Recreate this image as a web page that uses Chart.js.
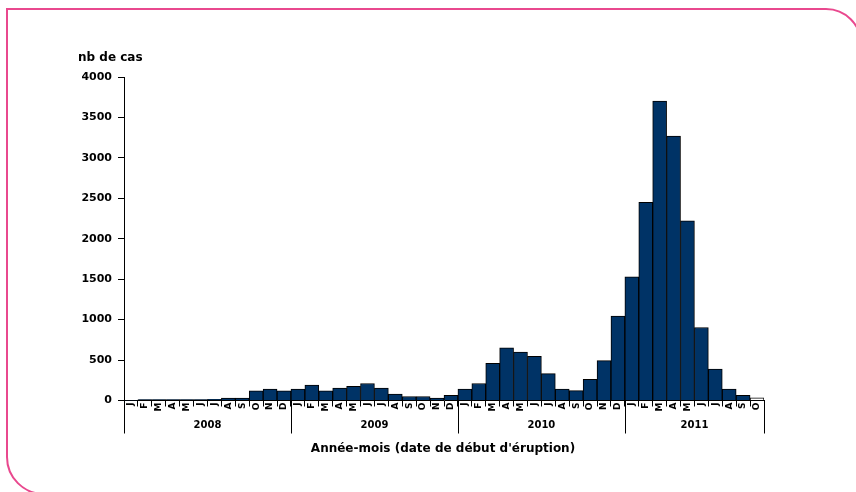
<!DOCTYPE html>
<html>
<head>
<meta charset="utf-8">
<script src="https://cdn.jsdelivr.net/npm/chart.js@4"></script>
<style>
  html, body { margin: 0; padding: 0; background: #fff; overflow: hidden; }
  #wrap { position: relative; width: 856px; height: 492px; overflow: hidden; }
  #cadre { position: absolute; left: 6px; top: 8px; width: 856px; height: 487px;
           border: 2px solid #e9488e; border-radius: 0 36px 0 38px; box-sizing: border-box; }
  canvas { position: absolute; left: 0; top: 0; }
</style>
</head>
<body>
<div id="wrap">
  <div id="cadre"></div>
  <canvas id="graphe" width="856" height="492"></canvas>
</div>
<script>
// mois de début d'éruption, janvier 2008 à octobre 2011
var mois = ['J','F','M','A','M','J','J','A','S','O','N','D',
            'J','F','M','A','M','J','J','A','S','O','N','D',
            'J','F','M','A','M','J','J','A','S','O','N','D',
            'J','F','M','A','M','J','J','A','S','O'];
var annees = ['2008', '2009', '2010', '2011'];
var moisParAnnee = [12, 12, 12, 10];
var cas = [5, 12, 12, 12, 12, 12, 15, 30, 30, 120, 140, 120,
           140, 190, 120, 155, 175, 210, 155, 80, 50, 50, 30, 65,
           140, 210, 460, 650, 600, 547, 333, 140, 123, 263, 494, 1045,
           1529, 2449, 3702, 3269, 2222, 903, 387, 140, 65, 33];
var ticksY = [0, 500, 1000, 1500, 2000, 2500, 3000, 3500, 4000];

var police = 'DejaVu Sans';

// annees sous l'axe des x + titres des axes
var annotations = {
  id: 'annotations',
  afterDraw: function (chart) {
    var c = chart.ctx;
    var x = chart.scales.x;
    var zone = chart.chartArea;
    var demi = (x.getPixelForValue(1) - x.getPixelForValue(0)) / 2;
    c.save();
    c.strokeStyle = '#000';
    c.lineWidth = 1;
    c.fillStyle = '#000';
    c.textAlign = 'center';
    c.textBaseline = 'middle';
    c.font = 'bold 10px ' + police;
    var debut = 0;
    for (var i = 0; i <= annees.length; i++) {
      var px = Math.round(x.getPixelForValue(Math.min(debut, mois.length - 1)) + (debut < mois.length ? -demi : demi)) + 0.5;
      c.beginPath();
      c.moveTo(px, zone.bottom);
      c.lineTo(px, zone.bottom + 33);
      c.stroke();
      if (i < annees.length) {
        var fin = debut + moisParAnnee[i] - 1;
        var milieu = (x.getPixelForValue(debut) + x.getPixelForValue(fin)) / 2;
        c.fillText(annees[i], milieu, zone.bottom + 25);
        debut += moisParAnnee[i];
      }
    }
    c.font = 'bold 12px ' + police;
    c.fillText('Année-mois (date de début d\'éruption)', 443, 449);
    c.textAlign = 'left';
    c.fillText('nb de cas', 78, 58);
    c.restore();
  }
};

var ctx = document.getElementById('graphe').getContext('2d');
var graphe = new Chart(ctx, {
  type: 'bar',
  data: {
    labels: mois,
    datasets: [{
      data: cas,
      backgroundColor: cas.map(function (v, i) { return i === cas.length - 1 ? '#ffffff' : '#003366'; }),
      borderColor: '#000',
      borderWidth: 1,
      borderSkipped: 'bottom',
      categoryPercentage: 1,
      barPercentage: 1
    }]
  },
  options: {
    responsive: false,
    animation: false,
    layout: { padding: { left: 0, right: 92, top: 77, bottom: 0 } },
    plugins: { legend: { display: false }, tooltip: { enabled: false } },
    scales: {
      x: {
        afterFit: function (s) { s.height = 91.5; },
        grid: { display: true, drawOnChartArea: false, offset: true, tickLength: 6, color: '#000' },
        border: { display: true, color: '#000', width: 1 },
        ticks: {
          autoSkip: false, minRotation: 90, maxRotation: 90, padding: -4,
          color: '#000', font: { family: police, size: 9, weight: 'bold' }
        }
      },
      y: {
        min: 0, max: 4000,
        afterFit: function (s) { s.width = 124; },
        afterBuildTicks: function (s) { s.ticks = ticksY.map(function (v) { return { value: v }; }); },
        grid: { display: true, drawOnChartArea: false, tickLength: 6, color: '#000' },
        border: { display: true, color: '#000', width: 1 },
        ticks: {
          color: '#000', padding: 6, font: { family: police, size: 11, weight: 'bold' },
          callback: function (v) { return String(v); }
        }
      }
    }
  },
  plugins: [annotations]
});
</script>
</body>
</html>
